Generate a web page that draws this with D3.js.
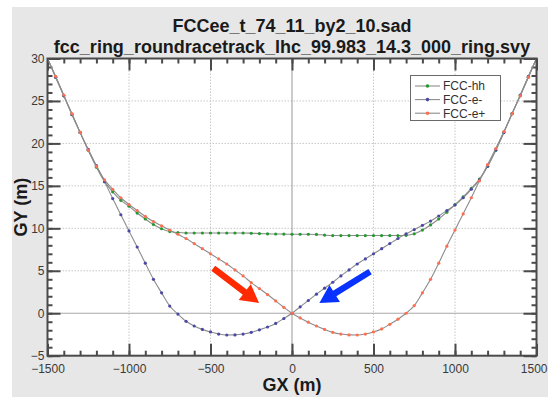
<!DOCTYPE html>
<html><head><meta charset="utf-8">
<script src="https://cdn.jsdelivr.net/npm/d3@7"></script>
<style>
html,body{margin:0;padding:0;background:#fff;}
svg{display:block;font-family:"Liberation Sans",Arial,Helvetica,sans-serif;}
</style></head>
<body>
<svg id="chart" width="548" height="397"></svg>
<script>
const titleLines = ["FCCee_t_74_11_by2_10.sad", "fcc_ring_roundracetrack_lhc_99.983_14.3_000_ring.svy"];
const xLabel = "GX (m)";
const yLabel = "GY (m)";
const xTicks = [-1500, -1000, -500, 0, 500, 1000, 1500];
const yTicks = [-5, 0, 5, 10, 15, 20, 25, 30];
const seriesNames = ["FCC-hh", "FCC-e-", "FCC-e+"];
const seriesColors = ["#24992f", "#4a48a6", "#ff6e50"];

const gx = [-1500,-1450,-1400,-1350,-1300,-1250,-1200,-1150,-1100,-1050,-1000,-950,-900,-850,-800,-750,-700,-650,-600,-550,-500,-450,-400,-350,-300,-250,-200,-150,-100,-50,0,50,100,150,200,250,300,350,400,450,500,550,600,650,700,750,800,850,900,950,1000,1050,1100,1150,1200,1250,1300,1350,1400,1450,1500];

const gyHH = [30,27.8,25.6,23.4,21.3,19.2,17.2,15.5,14.3,13.3,12.6,11.8,11.1,10.45,9.95,9.62,9.5,9.45,9.45,9.45,9.45,9.45,9.45,9.45,9.45,9.42,9.38,9.35,9.33,9.32,9.3,9.3,9.3,9.28,9.2,9.15,9.15,9.15,9.15,9.15,9.15,9.15,9.15,9.15,9.18,9.35,9.8,10.4,11.1,11.9,12.8,13.7,14.7,15.8,17.3,19.2,21.3,23.5,25.6,27.8,30];

const gyEm = [30,27.8,25.6,23.4,21.3,19.3,17.4,15.5,13.5,11.6,9.7,7.8,5.9,4.0,2.4,0.85,-0.1,-0.95,-1.5,-1.9,-2.2,-2.45,-2.56,-2.55,-2.45,-2.25,-1.95,-1.62,-1.2,-0.62,0,0.75,1.5,2.25,2.95,3.65,4.4,5.1,5.8,6.4,7.0,7.6,8.2,8.8,9.35,9.85,10.35,10.85,11.45,12.1,12.75,13.6,14.6,15.7,17.3,19.2,21.3,23.5,25.7,27.9,30];

const gyEp = [30,27.9,25.7,23.5,21.3,19.2,17.3,15.7,14.6,13.6,12.8,12.1,11.4,10.8,10.3,9.8,9.3,8.8,8.2,7.6,7.0,6.4,5.8,5.1,4.4,3.6,2.9,2.2,1.45,0.7,0,-0.55,-1.05,-1.5,-1.9,-2.25,-2.45,-2.55,-2.56,-2.45,-2.2,-1.85,-1.3,-0.7,0.0,0.9,2.4,4.0,5.9,7.9,9.8,11.7,13.6,15.6,17.5,19.4,21.4,23.5,25.6,27.8,30];

const arrowStart = [[-483, 5.3], [479, 4.9]];
const arrowEnd = [[-202, 1.2], [168, 1.2]];
const arrowColors = ["#ff2a00", "#0a32ff"];

const svg = d3.select("#chart");
const W = 548, H = 397;
const L = 47.5, R = 536.5, T = 58.5, B = 355.7;

svg.append("rect").attr("x",0).attr("y",0).attr("width",W).attr("height",H).attr("fill","#fff");
svg.append("rect").attr("x",12).attr("y",7).attr("width",W-12).attr("height",H-7).attr("fill","#e7e7e7");
svg.append("rect").attr("x",L).attr("y",T).attr("width",R-L).attr("height",B-T).attr("fill","#fff");

const x = d3.scaleLinear().domain([-1500,1500]).range([L,R]);
const y = d3.scaleLinear().domain([-5,30]).range([B,T]);

// grid
const grid = svg.append("g");
grid.selectAll(".gx").data(xTicks.filter(v=>v!==-1500&&v!==1500&&v!==0)).enter().append("line")
  .attr("x1",d=>x(d)).attr("x2",d=>x(d)).attr("y1",T).attr("y2",B)
  .attr("stroke","#c8c8c8").attr("stroke-width",1).attr("stroke-dasharray","1.5,1.5");
grid.selectAll(".gy").data(yTicks.filter(v=>v!==-5&&v!==30&&v!==0)).enter().append("line")
  .attr("y1",d=>y(d)).attr("y2",d=>y(d)).attr("x1",L).attr("x2",R)
  .attr("stroke","#c8c8c8").attr("stroke-width",1).attr("stroke-dasharray","1.5,1.5");
grid.append("line").attr("x1",x(0)).attr("x2",x(0)).attr("y1",T).attr("y2",B).attr("stroke","#a8a8a8").attr("stroke-width",1.2);
grid.append("line").attr("y1",y(0)).attr("y2",y(0)).attr("x1",L).attr("x2",R).attr("stroke","#a8a8a8").attr("stroke-width",1.2);

// axes with inward ticks on all sides
const axColor = "#4a4a4a";
function styleAxis(g){
  g.select(".domain").remove();
  g.selectAll(".tick line").attr("stroke",axColor).attr("stroke-width",2);
  g.selectAll("text").attr("fill","#3a3a3a").style("font-size","12px");
}
const xMinor = d3.range(-1500,1501,100);
const yMinor = d3.range(-5,30.1,1);
// bottom
svg.append("g").attr("transform",`translate(0,${B})`)
  .call(d3.axisBottom(x).tickValues(xMinor).tickSize(-5).tickFormat(""))
  .call(styleAxis);
const xb = svg.append("g").attr("transform",`translate(0,${B})`)
  .call(d3.axisBottom(x).tickValues(xTicks).tickSize(-12).tickPadding(-3).tickFormat(d3.format("d")))
  .call(styleAxis);
xb.selectAll("text").attr("dy","1.2em").attr("y",3);
xb.selectAll("text").filter(d=>d===1500).attr("text-anchor","end").attr("x",W-1-x(1500));
// top
svg.append("g").attr("transform",`translate(0,${T})`)
  .call(d3.axisTop(x).tickValues(xMinor).tickSize(-5).tickFormat("")).call(styleAxis);
svg.append("g").attr("transform",`translate(0,${T})`)
  .call(d3.axisTop(x).tickValues(xTicks).tickSize(-12).tickFormat("")).call(styleAxis);
// left
svg.append("g").attr("transform",`translate(${L},0)`)
  .call(d3.axisLeft(y).tickValues(yMinor).tickSize(-5).tickFormat("")).call(styleAxis);
const yl = svg.append("g").attr("transform",`translate(${L},0)`)
  .call(d3.axisLeft(y).tickValues(yTicks).tickSize(-13).tickFormat(d3.format("d")))
  .call(styleAxis);
yl.selectAll("text").attr("x",-3);
// right
svg.append("g").attr("transform",`translate(${R},0)`)
  .call(d3.axisRight(y).tickValues(yMinor).tickSize(-5).tickFormat("")).call(styleAxis);
svg.append("g").attr("transform",`translate(${R},0)`)
  .call(d3.axisRight(y).tickValues(yTicks).tickSize(-13).tickFormat("")).call(styleAxis);

// clip
svg.append("clipPath").attr("id","clip").append("rect").attr("x",L).attr("y",T).attr("width",R-L).attr("height",B-T);

const seriesVals = [gyHH, gyEm, gyEp];
const lineGen = d3.line().x(d=>x(d[0])).y(d=>y(d[1])).curve(d3.curveMonotoneX);
const plotG = svg.append("g").attr("clip-path","url(#clip)");
seriesVals.forEach((vals,i)=>{
  const pts = gx.map((v,j)=>[v, vals[j]]);
  plotG.append("path").datum(pts).attr("d",lineGen).attr("fill","none").attr("stroke","#8c8c8c").attr("stroke-width",1.1);
  plotG.selectAll(null).data(pts).enter().append("circle")
    .attr("cx",d=>x(d[0])).attr("cy",d=>y(d[1])).attr("r",1.6).attr("fill",seriesColors[i]);
});

// frame
svg.append("rect").attr("x",L).attr("y",T).attr("width",R-L).attr("height",B-T)
  .attr("fill","none").attr("stroke",axColor).attr("stroke-width",2);

// arrows
arrowStart.forEach((s,i)=>{
  const e = arrowEnd[i];
  const x0=x(s[0]), y0=y(s[1]), x1=x(e[0]), y1=y(e[1]);
  const ang = Math.atan2(y1-y0, x1-x0);
  const len = Math.hypot(x1-x0, y1-y0);
  const hl = 18, hw = 10, sw = 3.2;
  const g = svg.append("g").attr("transform",`translate(${x0},${y0}) rotate(${ang*180/Math.PI})`);
  g.append("path").attr("d",`M0,${-sw} L${len-hl},${-sw} L${len-hl},${-hw} L${len},0 L${len-hl},${hw} L${len-hl},${sw} L0,${sw} Z`)
    .attr("fill",arrowColors[i]);
});

// legend
const lg = svg.append("g");
lg.append("rect").attr("x",410.5).attr("y",75.5).attr("width",90).attr("height",45)
  .attr("fill","#fff").attr("stroke","#6a6a6a").attr("stroke-width",1);
seriesNames.forEach((n,i)=>{
  const yy = 86 + i*13.6;
  lg.append("line").attr("x1",415).attr("x2",440).attr("y1",yy).attr("y2",yy).attr("stroke","#8c8c8c").attr("stroke-width",1.1);
  lg.append("circle").attr("cx",427.5).attr("cy",yy).attr("r",1.8).attr("fill",seriesColors[i]);
  lg.append("text").attr("x",443).attr("y",yy+4.3).text(n).attr("fill","#333").style("font-size","12px");
});

// titles
titleLines.forEach((t,i)=>{
  svg.append("text").attr("x",(L+R)/2).attr("y",31.5 + i*21).attr("text-anchor","middle")
    .style("font-size","18px").style("font-weight","bold").attr("fill","#1a1a1a").text(t);
});
svg.append("text").attr("x",(L+R)/2).attr("y",391).attr("text-anchor","middle")
  .style("font-size","18px").style("font-weight","bold").attr("fill","#1a1a1a").text(xLabel);
svg.append("text").attr("transform",`translate(27,${(T+B)/2}) rotate(-90)`).attr("text-anchor","middle")
  .style("font-size","18px").style("font-weight","bold").attr("fill","#1a1a1a").text(yLabel);
</script>
</body></html>
